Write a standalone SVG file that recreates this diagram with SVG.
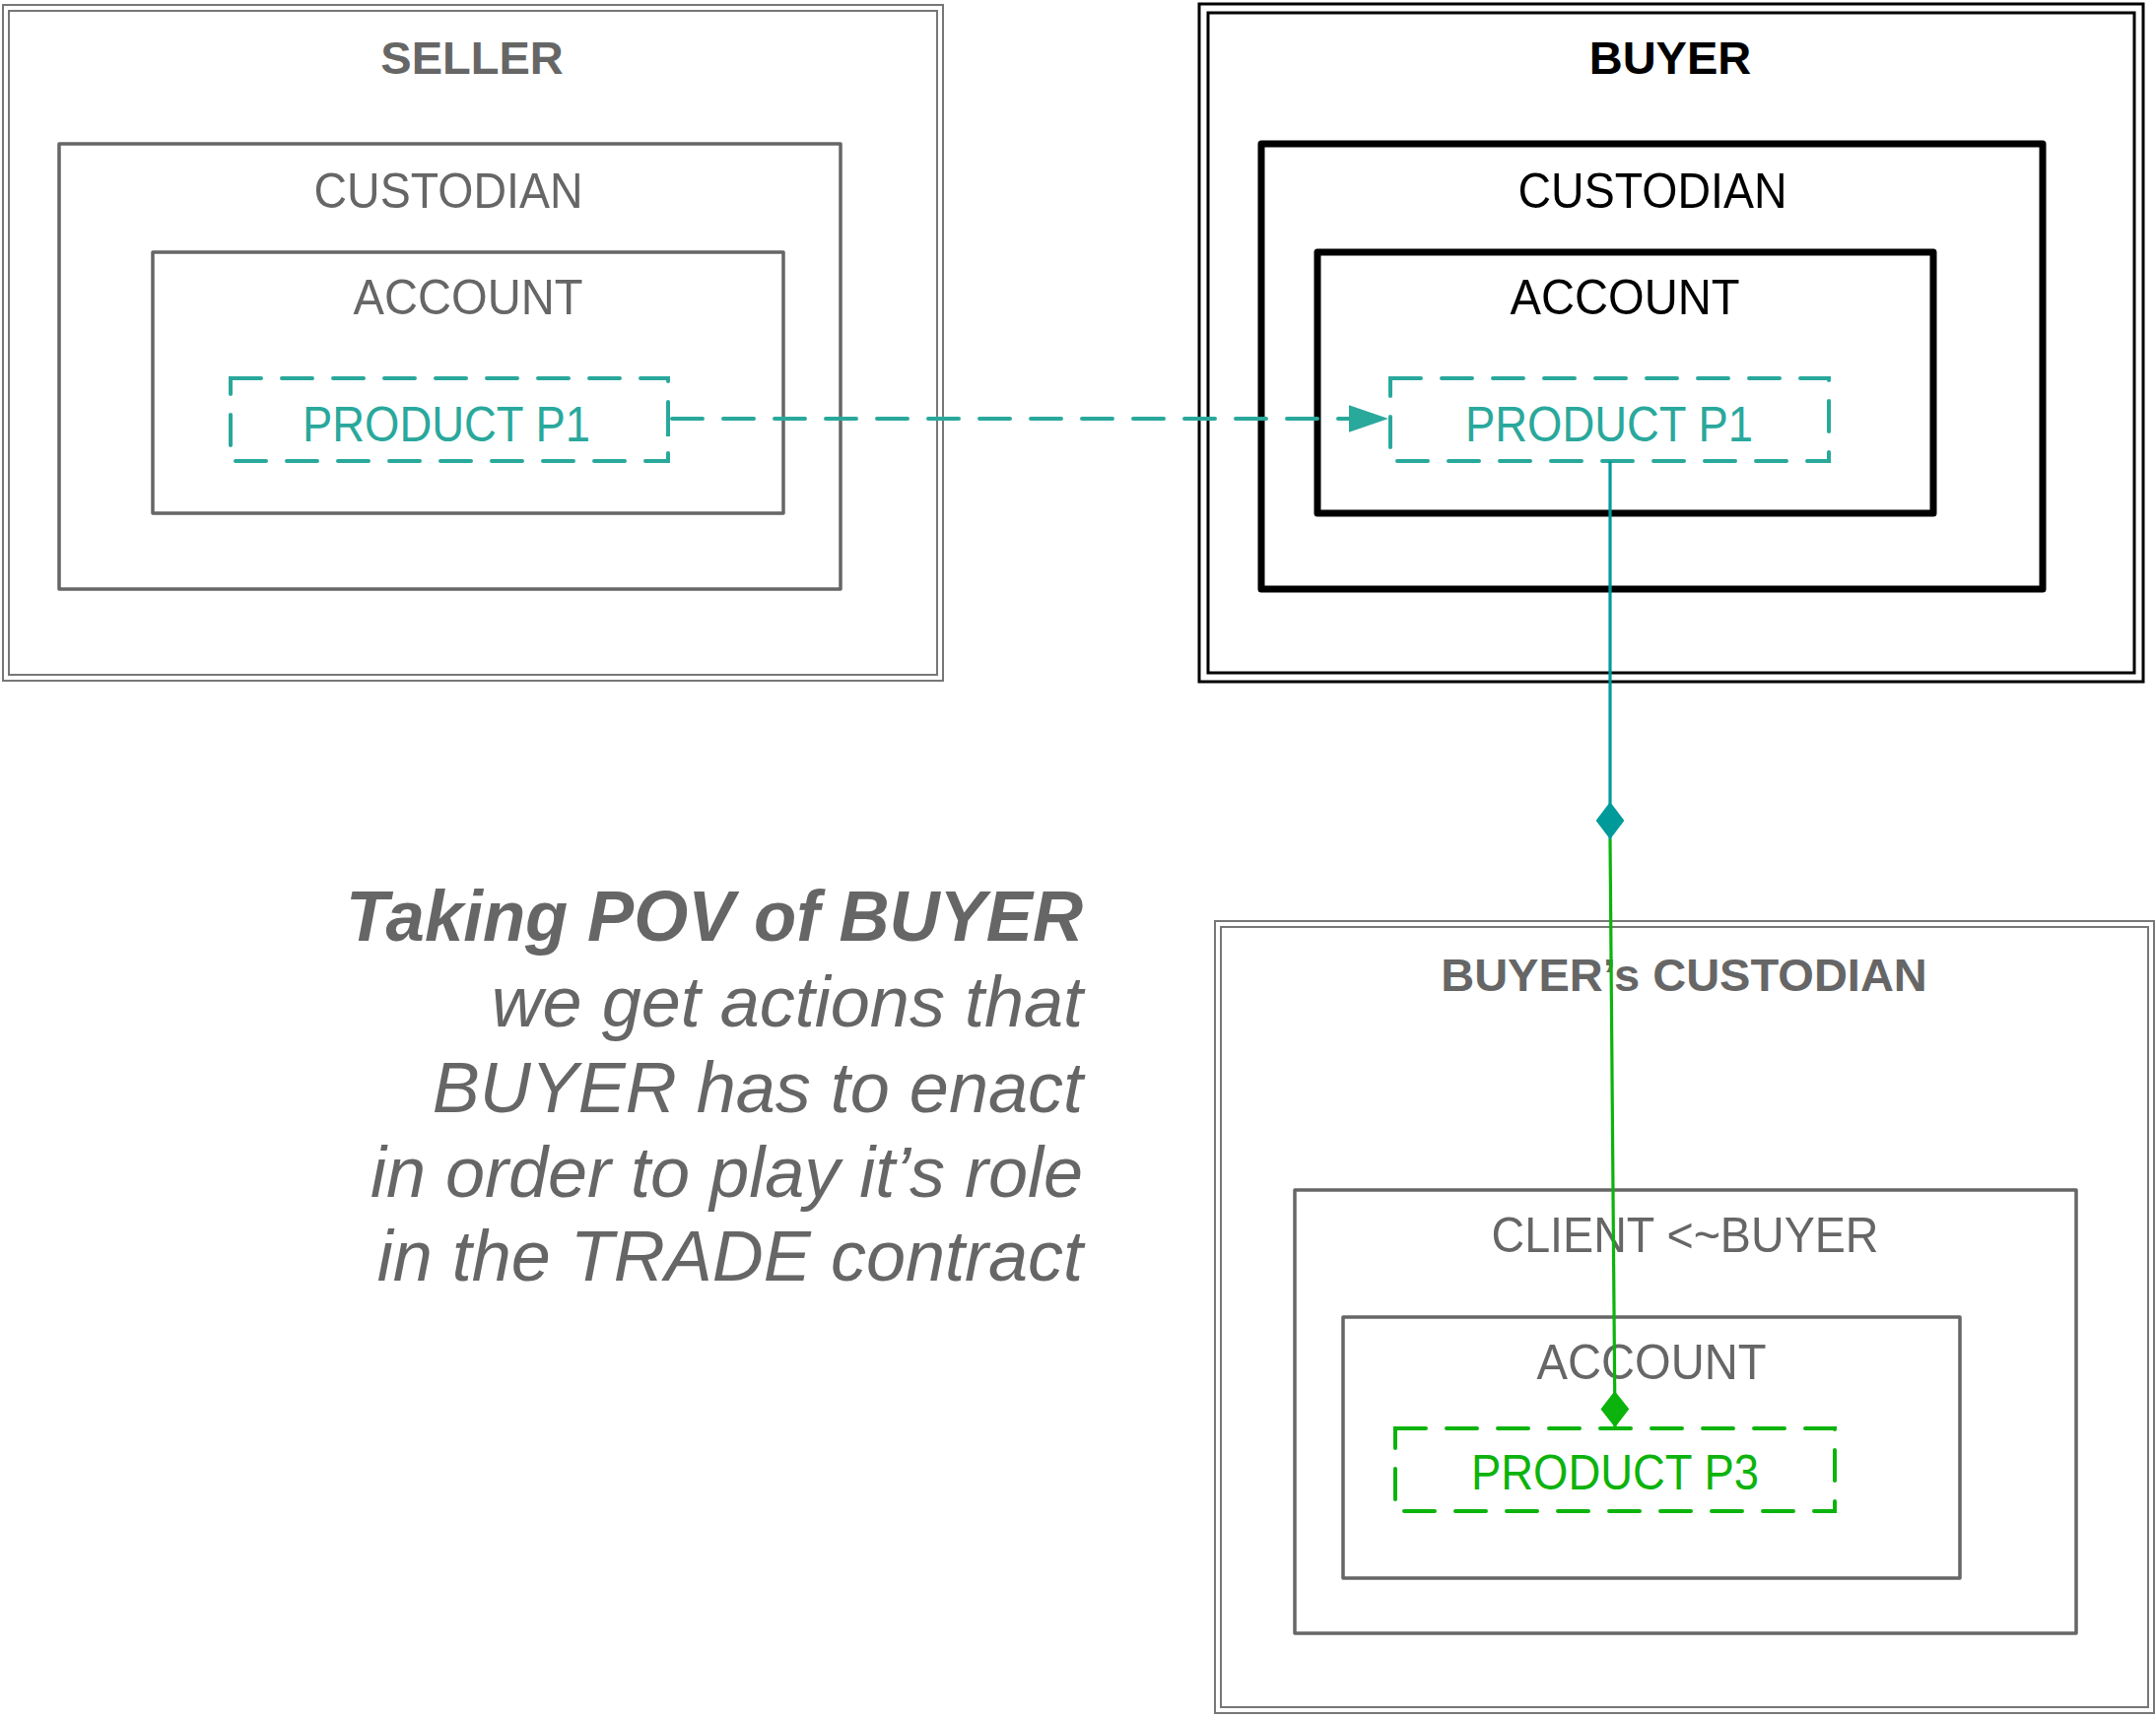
<svg xmlns="http://www.w3.org/2000/svg" width="2188" height="1744" viewBox="0 0 2188 1744">
<defs>
<style>
text{font-family:"Liberation Sans",Arial,Helvetica,sans-serif;}
.t{font-size:50px;text-anchor:middle;}
.b{font-weight:bold;font-size:47px;}
.g{fill:#666666;}
.k{fill:#000000;}
.tl{fill:#29A89C;}
.gr{fill:#0CB30C;}
.box{fill:none;stroke:#666666;stroke-width:3.5;stroke-linejoin:round;}
.thick{fill:none;stroke:#000000;stroke-width:7;stroke-linejoin:round;}
.dbl{fill:none;stroke:#777777;stroke-width:2;}
.dblk{fill:none;stroke:#000000;stroke-width:3;}
.dash{fill:none;stroke-width:4;stroke-dasharray:31 21;stroke-linecap:round;}
.note{font-size:72px;font-style:italic;text-anchor:end;fill:#666666;}
</style>
<marker id="arrowTeal" markerUnits="userSpaceOnUse" markerWidth="40" markerHeight="28" viewBox="0 0 38 26" refX="38" refY="13" orient="auto">
<path d="M0,0 L38,13 L0,26 Z" fill="#29A89C"/>
</marker>
<marker id="diaTeal" markerUnits="userSpaceOnUse" markerWidth="38" markerHeight="29" viewBox="0 0 37 28" refX="37" refY="14" orient="auto">
<path d="M0,14 L18.5,0 L37,14 L18.5,28 Z" fill="#009A9A"/>
</marker>
<marker id="diaGreen" markerUnits="userSpaceOnUse" markerWidth="37" markerHeight="29" viewBox="0 0 36 28" refX="36" refY="14" orient="auto">
<path d="M0,14 L18,0 L36,14 L18,28 Z" fill="#0CB30C"/>
</marker>
</defs>
<rect width="2188" height="1744" fill="#ffffff"/>

<g id="seller">
<rect class="dbl" x="3" y="5" width="954" height="686"/>
<rect class="dbl" x="9" y="11" width="942" height="674"/>
<text class="t b g" x="479" y="75">SELLER</text>
</g>
<g id="seller-custodian">
<rect class="box" x="60" y="146" width="793" height="452"/>
<text class="t g" x="455" y="211" textLength="273" lengthAdjust="spacingAndGlyphs">CUSTODIAN</text>
</g>
<g id="seller-account">
<rect class="box" x="155" y="256" width="640" height="265"/>
<text class="t g" x="475" y="319" textLength="233" lengthAdjust="spacingAndGlyphs">ACCOUNT</text>
</g>
<g id="seller-product-p1">
<rect class="dash" x="234" y="384" width="444" height="84" stroke="#29A89C"/>
<text class="t tl" x="453" y="448" textLength="292" lengthAdjust="spacingAndGlyphs">PRODUCT P1</text>
</g>

<g id="buyer">
<rect class="dblk" x="1217" y="4" width="958" height="688"/>
<rect class="dblk" x="1226" y="13" width="940" height="670"/>
<text class="t b k" x="1695" y="75">BUYER</text>
</g>
<g id="buyer-custodian">
<rect class="thick" x="1280" y="146" width="793" height="452"/>
<text class="t k" x="1677" y="211" textLength="273" lengthAdjust="spacingAndGlyphs">CUSTODIAN</text>
</g>
<g id="buyer-account">
<rect class="thick" x="1337" y="256" width="625" height="265"/>
<text class="t k" x="1649" y="319" textLength="233" lengthAdjust="spacingAndGlyphs">ACCOUNT</text>
</g>
<g id="buyer-product-p1">
<rect class="dash" x="1411" y="384" width="445" height="84" stroke="#29A89C"/>
<text class="t tl" x="1633" y="448" textLength="292" lengthAdjust="spacingAndGlyphs">PRODUCT P1</text>
</g>

<g id="buyers-custodian">
<rect class="dbl" x="1233" y="935" width="953" height="804"/>
<rect class="dbl" x="1239" y="941" width="941" height="792"/>
<text class="t b g" x="1709" y="1006">BUYER’s CUSTODIAN</text>
</g>
<g id="client">
<rect class="box" x="1314" y="1208" width="793" height="450"/>
<text class="t g" x="1710" y="1271" textLength="393" lengthAdjust="spacingAndGlyphs">CLIENT &lt;~BUYER</text>
</g>
<g id="client-account">
<rect class="box" x="1363" y="1337" width="626" height="265"/>
<text class="t g" x="1676" y="1400" textLength="233" lengthAdjust="spacingAndGlyphs">ACCOUNT</text>
</g>
<g id="product-p3">
<rect class="dash" x="1416" y="1450" width="446" height="84" stroke="#0CB30C"/>
<text class="t gr" x="1639" y="1512" textLength="292" lengthAdjust="spacingAndGlyphs">PRODUCT P3</text>
</g>

<g id="note">
<text class="note" x="1099" y="955" font-weight="bold" textLength="748" lengthAdjust="spacingAndGlyphs">Taking POV of BUYER</text>
<text class="note" x="1099" y="1042">we get actions that</text>
<text class="note" x="1099" y="1129">BUYER has to enact</text>
<text class="note" x="1099" y="1215">in order to play it’s role</text>
<text class="note" x="1099" y="1300">in the TRADE contract</text>
</g>

<g id="connectors">
<line x1="678" y1="408" x2="678" y2="443" stroke="#29A89C" stroke-width="4"/>
<line class="dash" x1="682" y1="425" x2="1409" y2="425" stroke="#29A89C" marker-end="url(#arrowTeal)"/>
<line x1="1634" y1="468" x2="1634" y2="852" stroke="#009A9A" stroke-width="3.2" marker-end="url(#diaTeal)"/>
<line x1="1634" y1="852" x2="1639" y2="1449" stroke="#0CB30C" stroke-width="3.2" marker-end="url(#diaGreen)"/>
</g>
</svg>
